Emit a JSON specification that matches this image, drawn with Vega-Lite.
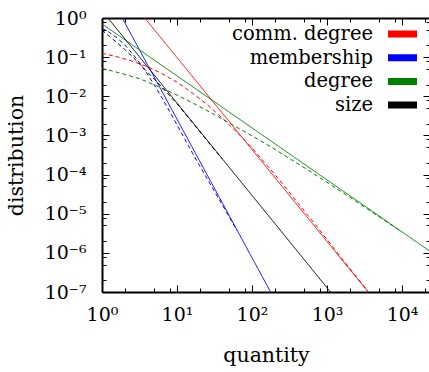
{
  "$schema": "https://vega.github.io/schema/vega-lite/v6.json",
  "width": 328,
  "height": 274,
  "autosize": {"type": "none"},
  "padding": {"left": 102, "top": 18, "right": 0, "bottom": 80},
  "config": {
    "view": {"stroke": null},
    "font": "DejaVu Serif",
    "axis": {
      "domainColor": "black", "domainWidth": 2, "tickColor": "black", "tickWidth": 1,
      "grid": false, "labelFont": "DejaVu Serif", "labelFontSize": 19, "labelColor": "black",
      "titleFont": "DejaVu Serif", "titleFontSize": 20.5, "titleFontWeight": "normal", "titleColor": "black"
    },
    "legend": {"labelFont": "DejaVu Serif", "labelFontSize": 19.5, "labelColor": "black"}
  },
  "datasets": {
    "lines": [
      {"series": "comm. degree", "kind": "fit", "x": 3.715, "y": 1},
      {"series": "comm. degree", "kind": "fit", "x": 3540, "y": 1e-7},
      {"series": "membership", "kind": "fit", "x": 1.862, "y": 1},
      {"series": "membership", "kind": "fit", "x": 176.8, "y": 1e-7},
      {"series": "degree", "kind": "fit", "x": 1, "y": 0.708},
      {"series": "degree", "kind": "fit", "x": 23600, "y": 1.096e-6},
      {"series": "size", "kind": "fit", "x": 1.2, "y": 1},
      {"series": "size", "kind": "fit", "x": 1112, "y": 1e-7},

      {"series": "comm. degree", "kind": "data", "x": 1, "y": 0.1259},
      {"series": "comm. degree", "kind": "data", "x": 1.585, "y": 0.1023},
      {"series": "comm. degree", "kind": "data", "x": 2.512, "y": 0.0794},
      {"series": "comm. degree", "kind": "data", "x": 3.981, "y": 0.0575},
      {"series": "comm. degree", "kind": "data", "x": 6.31, "y": 0.038},
      {"series": "comm. degree", "kind": "data", "x": 10, "y": 0.0229},
      {"series": "comm. degree", "kind": "data", "x": 15.85, "y": 0.0123},
      {"series": "comm. degree", "kind": "data", "x": 25.12, "y": 0.00617},
      {"series": "comm. degree", "kind": "data", "x": 39.81, "y": 0.00282},
      {"series": "comm. degree", "kind": "data", "x": 63.1, "y": 0.0012},
      {"series": "comm. degree", "kind": "data", "x": 100, "y": 0.000479},
      {"series": "comm. degree", "kind": "data", "x": 158.5, "y": 0.000174},
      {"series": "comm. degree", "kind": "data", "x": 251.2, "y": 0.0000603},
      {"series": "comm. degree", "kind": "data", "x": 398.1, "y": 0.00001995},
      {"series": "comm. degree", "kind": "data", "x": 631, "y": 6.76e-6},
      {"series": "comm. degree", "kind": "data", "x": 1000, "y": 2.19e-6},
      {"series": "comm. degree", "kind": "data", "x": 1585, "y": 7.08e-7},
      {"series": "comm. degree", "kind": "data", "x": 2512, "y": 2.34e-7},
      {"series": "comm. degree", "kind": "data", "x": 3548, "y": 1.023e-7},

      {"series": "degree", "kind": "data", "x": 1, "y": 0.0513},
      {"series": "degree", "kind": "data", "x": 1.778, "y": 0.0389},
      {"series": "degree", "kind": "data", "x": 3.162, "y": 0.0282},
      {"series": "degree", "kind": "data", "x": 5.623, "y": 0.0178},
      {"series": "degree", "kind": "data", "x": 10, "y": 0.01072},
      {"series": "degree", "kind": "data", "x": 17.78, "y": 0.00617},
      {"series": "degree", "kind": "data", "x": 31.62, "y": 0.00339},
      {"series": "degree", "kind": "data", "x": 56.23, "y": 0.00182},
      {"series": "degree", "kind": "data", "x": 100, "y": 0.000977},
      {"series": "degree", "kind": "data", "x": 177.8, "y": 0.000513},
      {"series": "degree", "kind": "data", "x": 316.2, "y": 0.000257},
      {"series": "degree", "kind": "data", "x": 562.3, "y": 0.000129},
      {"series": "degree", "kind": "data", "x": 1000, "y": 0.0000631},
      {"series": "degree", "kind": "data", "x": 1778, "y": 0.0000309},
      {"series": "degree", "kind": "data", "x": 3162, "y": 0.0000148},
      {"series": "degree", "kind": "data", "x": 5623, "y": 7.08e-6},
      {"series": "degree", "kind": "data", "x": 10000, "y": 3.39e-6},

      {"series": "membership", "kind": "data", "x": 1, "y": 0.55},
      {"series": "membership", "kind": "data", "x": 1.259, "y": 0.427},
      {"series": "membership", "kind": "data", "x": 1.585, "y": 0.309},
      {"series": "membership", "kind": "data", "x": 1.995, "y": 0.209},
      {"series": "membership", "kind": "data", "x": 2.512, "y": 0.1259},
      {"series": "membership", "kind": "data", "x": 3.162, "y": 0.0724},
      {"series": "membership", "kind": "data", "x": 3.981, "y": 0.038},
      {"series": "membership", "kind": "data", "x": 5.012, "y": 0.01905},
      {"series": "membership", "kind": "data", "x": 6.31, "y": 0.00912},
      {"series": "membership", "kind": "data", "x": 7.943, "y": 0.00417},
      {"series": "membership", "kind": "data", "x": 10, "y": 0.00186},
      {"series": "membership", "kind": "data", "x": 12.59, "y": 0.000832},
      {"series": "membership", "kind": "data", "x": 15.85, "y": 0.000372},
      {"series": "membership", "kind": "data", "x": 19.95, "y": 0.00017},
      {"series": "membership", "kind": "data", "x": 25.12, "y": 0.0000794},
      {"series": "membership", "kind": "data", "x": 31.62, "y": 0.0000372},
      {"series": "membership", "kind": "data", "x": 39.81, "y": 0.0000174},
      {"series": "membership", "kind": "data", "x": 50.12, "y": 7.94e-6},
      {"series": "membership", "kind": "data", "x": 63.1, "y": 3.72e-6},

      {"series": "size", "kind": "data", "x": 1, "y": 0.49},
      {"series": "size", "kind": "data", "x": 1.259, "y": 0.339},
      {"series": "size", "kind": "data", "x": 1.585, "y": 0.234},
      {"series": "size", "kind": "data", "x": 1.995, "y": 0.1585},
      {"series": "size", "kind": "data", "x": 2.512, "y": 0.1047},
      {"series": "size", "kind": "data", "x": 3.162, "y": 0.0676},
      {"series": "size", "kind": "data", "x": 3.981, "y": 0.0427},
      {"series": "size", "kind": "data", "x": 5.012, "y": 0.0269},
      {"series": "size", "kind": "data", "x": 6.31, "y": 0.017},
      {"series": "size", "kind": "data", "x": 7.943, "y": 0.01047},
      {"series": "size", "kind": "data", "x": 10, "y": 0.00646},
      {"series": "size", "kind": "data", "x": 15.85, "y": 0.00219},
      {"series": "size", "kind": "data", "x": 25.12, "y": 0.000741},
      {"series": "size", "kind": "data", "x": 39.81, "y": 0.000251}
    ]
  },
  "layer": [
    {
      "data": {"name": "lines"},
      "mark": {"type": "line", "clip": true, "strokeWidth": 1},
      "encoding": {
        "x": {
          "field": "x", "type": "quantitative",
          "scale": {"type": "log", "domain": [1, 23600], "nice": false},
          "axis": {
            "orient": "bottom", "title": "quantity", "titlePadding": 18,
            "values": [1, 2, 5, 8, 10, 20, 50, 80, 100, 200, 500, 800, 1000, 2000, 5000, 8000, 10000, 20000],
            "labelExpr": "abs(log(datum.value)/LN10 - round(log(datum.value)/LN10)) < 0.001 ? '10' + (round(log(datum.value)/LN10) < 0 ? '⁻' : '') + ['⁰','¹','²','³','⁴','⁵','⁶','⁷'][abs(round(log(datum.value)/LN10))] : ''",
            "tickSize": {"condition": {"test": "abs(log(datum.value)/LN10 - round(log(datum.value)/LN10)) < 0.001", "value": -7}, "value": -4},
            "labelPadding": 20, "labelFlush": false, "labelOverlap": false
          }
        },
        "y": {
          "field": "y", "type": "quantitative",
          "scale": {"type": "log", "domain": [1e-7, 1], "nice": false},
          "axis": {
            "orient": "left", "title": "distribution", "titlePadding": 18,
            "values": [1e-7, 2e-7, 5e-7, 8e-7, 1e-6, 2e-6, 5e-6, 8e-6, 1e-5, 2e-5, 5e-5, 8e-5, 1e-4, 2e-4, 5e-4, 8e-4, 0.001, 0.002, 0.005, 0.008, 0.01, 0.02, 0.05, 0.08, 0.1, 0.2, 0.5, 0.8, 1],
            "labelExpr": "abs(log(datum.value)/LN10 - round(log(datum.value)/LN10)) < 0.001 ? '10' + (round(log(datum.value)/LN10) < 0 ? '⁻' : '') + ['⁰','¹','²','³','⁴','⁵','⁶','⁷'][abs(round(log(datum.value)/LN10))] : ''",
            "tickSize": {"condition": {"test": "abs(log(datum.value)/LN10 - round(log(datum.value)/LN10)) < 0.001", "value": -7}, "value": -4},
            "labelPadding": 23, "labelFlush": false, "labelOverlap": false
          }
        },
        "color": {
          "field": "series", "type": "nominal",
          "scale": {"domain": ["comm. degree", "membership", "degree", "size"], "range": ["#ff0000", "#0000ff", "#008000", "#000000"]},
          "legend": {
            "orient": "none", "legendX": 121, "legendY": 5, "title": null, "padding": 0,
            "symbolType": "M-2,0L2,0", "symbolSize": 210, "symbolStrokeWidth": 7, "symbolOffset": 168.5,
            "labelAlign": "right", "labelOffset": 15.3, "labelFont": "DejaVu Serif", "labelFontSize": 19.5,
            "labelColor": "transparent", "labelLimit": 400, "rowPadding": 1.7, "clipHeight": 22
          }
        },
        "strokeDash": {
          "field": "kind", "type": "nominal",
          "scale": {"domain": ["fit", "data"], "range": [[1, 0], [4, 3]]},
          "legend": null
        }
      }
    },
    {
      "data": {"name": "lines"},
      "mark": {"type": "line", "opacity": 0},
      "encoding": {
        "x": {
          "field": "x", "type": "quantitative",
          "scale": {"type": "log", "domain": [1, 23600], "nice": false},
          "axis": {
            "orient": "top", "title": null, "labels": false,
            "values": [1, 2, 5, 8, 10, 20, 50, 80, 100, 200, 500, 800, 1000, 2000, 5000, 8000, 10000, 20000],
            "tickSize": {"condition": {"test": "abs(log(datum.value)/LN10 - round(log(datum.value)/LN10)) < 0.001", "value": -7}, "value": -4}
          }
        },
        "y": {
          "field": "y", "type": "quantitative",
          "scale": {"type": "log", "domain": [1e-7, 1], "nice": false},
          "axis": {
            "orient": "right", "title": null, "labels": false,
            "values": [1e-7, 2e-7, 5e-7, 8e-7, 1e-6, 2e-6, 5e-6, 8e-6, 1e-5, 2e-5, 5e-5, 8e-5, 1e-4, 2e-4, 5e-4, 8e-4, 0.001, 0.002, 0.005, 0.008, 0.01, 0.02, 0.05, 0.08, 0.1, 0.2, 0.5, 0.8, 1],
            "tickSize": {"condition": {"test": "abs(log(datum.value)/LN10 - round(log(datum.value)/LN10)) < 0.001", "value": -7}, "value": -4}
          }
        },
        "color": {
          "field": "series", "type": "nominal",
          "scale": {"domain": ["comm. degree", "membership", "degree", "size"], "range": ["#ff0000", "#0000ff", "#008000", "#000000"]},
          "legend": {
            "orient": "none", "legendX": 289.5, "legendY": 5, "title": null, "padding": 0,
            "symbolType": "M-2,0L2,0", "symbolSize": 210, "symbolStrokeWidth": 7, "symbolOpacity": 0,
            "labelAlign": "right", "labelOffset": -40.5, "labelFont": "DejaVu Serif", "labelFontSize": 19.5,
            "labelColor": "black", "labelLimit": 300, "rowPadding": 1.7, "clipHeight": 22
          }
        }
      }
    }
  ],
  "resolve": {
    "axis": {"x": "independent", "y": "independent"},
    "scale": {"color": "independent"},
    "legend": {"color": "independent"}
  }
}
